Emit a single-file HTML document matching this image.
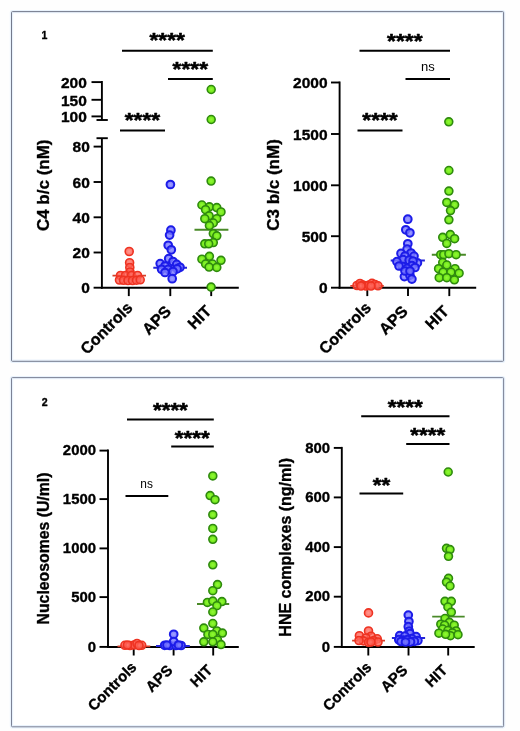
<!DOCTYPE html>
<html lang="en"><head><meta charset="utf-8"><title>Figure</title>
<style>
html,body{margin:0;padding:0;background:#fff;}
body{width:520px;height:731px;overflow:hidden;}
svg{display:block;filter:blur(0.35px);font-family:"Liberation Sans",sans-serif;fill:#000;}
text[font-weight="bold"]{stroke:#000;stroke-width:0.35px;stroke-linejoin:round;}
</style></head><body>
<svg width="520" height="731" viewBox="0 0 520 731">
<defs>
<radialGradient id="gr"><stop offset="0" stop-color="#ff7a70"/><stop offset="0.55" stop-color="#ff5e52"/><stop offset="1" stop-color="#fb4a3c"/></radialGradient>
<radialGradient id="gb"><stop offset="0" stop-color="#8c8cff"/><stop offset="0.55" stop-color="#7272ff"/><stop offset="1" stop-color="#5a5aff"/></radialGradient>
<radialGradient id="gg"><stop offset="0" stop-color="#92f838"/><stop offset="0.55" stop-color="#7cee22"/><stop offset="1" stop-color="#6ade18"/></radialGradient>
</defs>
<rect width="520" height="731" fill="#fefefe"/>
<rect x="11.5" y="11.6" width="492.1" height="349.7" rx="1" fill="#fff" stroke="#e9f2fc" stroke-width="3.4"/>
<rect x="11.5" y="11.6" width="492.1" height="349.7" rx="1" fill="none" stroke="#747a8c" stroke-width="1"/>
<rect x="11.5" y="377.6" width="492.1" height="349.2" rx="1" fill="#fff" stroke="#e9f2fc" stroke-width="3.4"/>
<rect x="11.5" y="377.6" width="492.1" height="349.2" rx="1" fill="none" stroke="#7c8296" stroke-width="1"/>
<text x="41.6" y="38.9" font-size="10.6" font-weight="bold" text-anchor="start" >1</text>
<text x="41.8" y="405.6" font-size="10.6" font-weight="bold" text-anchor="start" >2</text>
<line x1="101.9" y1="81" x2="101.9" y2="120" stroke="#000" stroke-width="1.9"/>
<line x1="91.5" y1="82.1" x2="101.9" y2="82.1" stroke="#000" stroke-width="1.9"/>
<text x="86.8" y="87.8" font-size="15.5" font-weight="bold" text-anchor="end" >200</text>
<line x1="91.5" y1="99.8" x2="101.9" y2="99.8" stroke="#000" stroke-width="1.9"/>
<text x="86.8" y="105.5" font-size="15.5" font-weight="bold" text-anchor="end" >150</text>
<line x1="91.5" y1="116.4" x2="101.9" y2="116.4" stroke="#000" stroke-width="1.9"/>
<text x="86.8" y="122.10000000000001" font-size="15.5" font-weight="bold" text-anchor="end" >100</text>
<line x1="96.5" y1="120" x2="107.8" y2="120" stroke="#000" stroke-width="1.9"/>
<line x1="96.5" y1="138.2" x2="107.8" y2="138.2" stroke="#000" stroke-width="1.9"/>
<line x1="101.9" y1="138.2" x2="101.9" y2="288.6" stroke="#000" stroke-width="1.9"/>
<line x1="93.6" y1="146.6" x2="101.9" y2="146.6" stroke="#000" stroke-width="1.9"/>
<text x="89.8" y="152.29999999999998" font-size="15.5" font-weight="bold" text-anchor="end" >80</text>
<line x1="93.6" y1="182" x2="101.9" y2="182" stroke="#000" stroke-width="1.9"/>
<text x="89.8" y="187.7" font-size="15.5" font-weight="bold" text-anchor="end" >60</text>
<line x1="93.6" y1="217.3" x2="101.9" y2="217.3" stroke="#000" stroke-width="1.9"/>
<text x="89.8" y="223.0" font-size="15.5" font-weight="bold" text-anchor="end" >40</text>
<line x1="93.6" y1="252.5" x2="101.9" y2="252.5" stroke="#000" stroke-width="1.9"/>
<text x="89.8" y="258.2" font-size="15.5" font-weight="bold" text-anchor="end" >20</text>
<line x1="93.6" y1="287.7" x2="101.9" y2="287.7" stroke="#000" stroke-width="1.9"/>
<text x="89.8" y="293.4" font-size="15.5" font-weight="bold" text-anchor="end" >0</text>
<line x1="100.9" y1="287.7" x2="238.8" y2="287.7" stroke="#000" stroke-width="1.9"/>
<line x1="128.8" y1="287" x2="128.8" y2="296.1" stroke="#000" stroke-width="1.9"/>
<line x1="170.3" y1="287" x2="170.3" y2="296.1" stroke="#000" stroke-width="1.9"/>
<line x1="211.2" y1="287" x2="211.2" y2="296.1" stroke="#000" stroke-width="1.9"/>
<text transform="translate(48.5 185.3) rotate(-90)" font-size="17" font-weight="bold" text-anchor="middle">C4 b/c (nM)</text>
<text transform="translate(133.6 308.7) rotate(-45)" font-size="16" font-weight="bold" text-anchor="end">Controls</text>
<text transform="translate(172 312.5) rotate(-45)" font-size="16" font-weight="bold" text-anchor="end">APS</text>
<text transform="translate(212.5 312) rotate(-45)" font-size="16" font-weight="bold" text-anchor="end">HIT</text>
<line x1="122" y1="50.7" x2="212.8" y2="50.7" stroke="#000" stroke-width="2.0"/>
<text transform="translate(167.2 37.7) scale(1 0.9)" y="10.72" font-size="22.8" font-weight="bold" text-anchor="middle" style="stroke-width:0.6px">****</text>
<line x1="168" y1="78.9" x2="212.8" y2="78.9" stroke="#000" stroke-width="2.0"/>
<text transform="translate(190.3 66.1) scale(1 0.9)" y="10.72" font-size="22.8" font-weight="bold" text-anchor="middle" style="stroke-width:0.6px">****</text>
<line x1="120" y1="130.4" x2="165" y2="130.4" stroke="#000" stroke-width="2.0"/>
<text transform="translate(142.4 117.2) scale(1 0.9)" y="10.72" font-size="22.8" font-weight="bold" text-anchor="middle" style="stroke-width:0.6px">****</text>
<line x1="112.5" y1="275.6" x2="146" y2="275.6" stroke="#d8402a" stroke-width="1.8"/>
<circle cx="129.2" cy="251.5" r="4.0" fill="url(#gr)" fill-opacity="0.78" stroke="#ee3322" stroke-width="1.6"/>
<circle cx="129.6" cy="262.7" r="4.0" fill="url(#gr)" fill-opacity="0.78" stroke="#ee3322" stroke-width="1.6"/>
<circle cx="129.8" cy="267.5" r="4.0" fill="url(#gr)" fill-opacity="0.78" stroke="#ee3322" stroke-width="1.6"/>
<circle cx="130.0" cy="272.0" r="4.0" fill="url(#gr)" fill-opacity="0.78" stroke="#ee3322" stroke-width="1.6"/>
<circle cx="120.5" cy="275.5" r="4.0" fill="url(#gr)" fill-opacity="0.78" stroke="#ee3322" stroke-width="1.6"/>
<circle cx="125.5" cy="275.5" r="4.0" fill="url(#gr)" fill-opacity="0.78" stroke="#ee3322" stroke-width="1.6"/>
<circle cx="131.5" cy="275.5" r="4.0" fill="url(#gr)" fill-opacity="0.78" stroke="#ee3322" stroke-width="1.6"/>
<circle cx="137.5" cy="275.5" r="4.0" fill="url(#gr)" fill-opacity="0.78" stroke="#ee3322" stroke-width="1.6"/>
<circle cx="119.5" cy="280.0" r="4.0" fill="url(#gr)" fill-opacity="0.78" stroke="#ee3322" stroke-width="1.6"/>
<circle cx="123.5" cy="280.3" r="4.0" fill="url(#gr)" fill-opacity="0.78" stroke="#ee3322" stroke-width="1.6"/>
<circle cx="128.0" cy="280.5" r="4.0" fill="url(#gr)" fill-opacity="0.78" stroke="#ee3322" stroke-width="1.6"/>
<circle cx="132.5" cy="280.5" r="4.0" fill="url(#gr)" fill-opacity="0.78" stroke="#ee3322" stroke-width="1.6"/>
<circle cx="136.5" cy="280.2" r="4.0" fill="url(#gr)" fill-opacity="0.78" stroke="#ee3322" stroke-width="1.6"/>
<circle cx="140.2" cy="279.8" r="4.0" fill="url(#gr)" fill-opacity="0.78" stroke="#ee3322" stroke-width="1.6"/>
<line x1="153.3" y1="267.8" x2="187" y2="267.8" stroke="#2525d8" stroke-width="1.9"/>
<circle cx="170.4" cy="184.5" r="3.85" fill="url(#gb)" fill-opacity="0.82" stroke="#1c1ce8" stroke-width="2.0"/>
<circle cx="170.9" cy="230.2" r="3.85" fill="url(#gb)" fill-opacity="0.82" stroke="#1c1ce8" stroke-width="2.0"/>
<circle cx="169.6" cy="235.1" r="3.85" fill="url(#gb)" fill-opacity="0.82" stroke="#1c1ce8" stroke-width="2.0"/>
<circle cx="168.2" cy="245.3" r="3.85" fill="url(#gb)" fill-opacity="0.82" stroke="#1c1ce8" stroke-width="2.0"/>
<circle cx="171.3" cy="249.8" r="3.85" fill="url(#gb)" fill-opacity="0.82" stroke="#1c1ce8" stroke-width="2.0"/>
<circle cx="168.7" cy="258.7" r="3.85" fill="url(#gb)" fill-opacity="0.82" stroke="#1c1ce8" stroke-width="2.0"/>
<circle cx="173.0" cy="261.5" r="3.85" fill="url(#gb)" fill-opacity="0.82" stroke="#1c1ce8" stroke-width="2.0"/>
<circle cx="160.2" cy="263.6" r="3.85" fill="url(#gb)" fill-opacity="0.82" stroke="#1c1ce8" stroke-width="2.0"/>
<circle cx="176.7" cy="264.4" r="3.85" fill="url(#gb)" fill-opacity="0.82" stroke="#1c1ce8" stroke-width="2.0"/>
<circle cx="165.0" cy="266.0" r="3.85" fill="url(#gb)" fill-opacity="0.82" stroke="#1c1ce8" stroke-width="2.0"/>
<circle cx="180.0" cy="267.3" r="3.85" fill="url(#gb)" fill-opacity="0.82" stroke="#1c1ce8" stroke-width="2.0"/>
<circle cx="161.6" cy="269.3" r="3.85" fill="url(#gb)" fill-opacity="0.82" stroke="#1c1ce8" stroke-width="2.0"/>
<circle cx="168.2" cy="269.3" r="3.85" fill="url(#gb)" fill-opacity="0.82" stroke="#1c1ce8" stroke-width="2.0"/>
<circle cx="177.1" cy="268.9" r="3.85" fill="url(#gb)" fill-opacity="0.82" stroke="#1c1ce8" stroke-width="2.0"/>
<circle cx="173.0" cy="271.5" r="3.85" fill="url(#gb)" fill-opacity="0.82" stroke="#1c1ce8" stroke-width="2.0"/>
<circle cx="165.0" cy="272.5" r="3.85" fill="url(#gb)" fill-opacity="0.82" stroke="#1c1ce8" stroke-width="2.0"/>
<circle cx="172.2" cy="278.7" r="3.85" fill="url(#gb)" fill-opacity="0.82" stroke="#1c1ce8" stroke-width="2.0"/>
<line x1="194.5" y1="229.8" x2="228.4" y2="229.8" stroke="#4a8a28" stroke-width="1.9"/>
<circle cx="211.2" cy="89.5" r="3.95" fill="url(#gg)" fill-opacity="1" stroke="#2f8a0e" stroke-width="1.6"/>
<circle cx="211.2" cy="119.5" r="3.95" fill="url(#gg)" fill-opacity="1" stroke="#2f8a0e" stroke-width="1.6"/>
<circle cx="211.1" cy="181.1" r="3.95" fill="url(#gg)" fill-opacity="1" stroke="#2f8a0e" stroke-width="1.6"/>
<circle cx="201.9" cy="205.0" r="3.95" fill="url(#gg)" fill-opacity="1" stroke="#2f8a0e" stroke-width="1.6"/>
<circle cx="209.4" cy="206.8" r="3.95" fill="url(#gg)" fill-opacity="1" stroke="#2f8a0e" stroke-width="1.6"/>
<circle cx="216.8" cy="207.6" r="3.95" fill="url(#gg)" fill-opacity="1" stroke="#2f8a0e" stroke-width="1.6"/>
<circle cx="205.6" cy="209.7" r="3.95" fill="url(#gg)" fill-opacity="1" stroke="#2f8a0e" stroke-width="1.6"/>
<circle cx="221.0" cy="211.9" r="3.95" fill="url(#gg)" fill-opacity="1" stroke="#2f8a0e" stroke-width="1.6"/>
<circle cx="209.1" cy="215.8" r="3.95" fill="url(#gg)" fill-opacity="1" stroke="#2f8a0e" stroke-width="1.6"/>
<circle cx="204.8" cy="218.7" r="3.95" fill="url(#gg)" fill-opacity="1" stroke="#2f8a0e" stroke-width="1.6"/>
<circle cx="216.8" cy="218.7" r="3.95" fill="url(#gg)" fill-opacity="1" stroke="#2f8a0e" stroke-width="1.6"/>
<circle cx="213.3" cy="223.0" r="3.95" fill="url(#gg)" fill-opacity="1" stroke="#2f8a0e" stroke-width="1.6"/>
<circle cx="209.4" cy="225.6" r="3.95" fill="url(#gg)" fill-opacity="1" stroke="#2f8a0e" stroke-width="1.6"/>
<circle cx="213.3" cy="233.6" r="3.95" fill="url(#gg)" fill-opacity="1" stroke="#2f8a0e" stroke-width="1.6"/>
<circle cx="216.8" cy="235.8" r="3.95" fill="url(#gg)" fill-opacity="1" stroke="#2f8a0e" stroke-width="1.6"/>
<circle cx="213.3" cy="242.6" r="3.95" fill="url(#gg)" fill-opacity="1" stroke="#2f8a0e" stroke-width="1.6"/>
<circle cx="204.8" cy="243.8" r="3.95" fill="url(#gg)" fill-opacity="1" stroke="#2f8a0e" stroke-width="1.6"/>
<circle cx="208.7" cy="243.8" r="3.95" fill="url(#gg)" fill-opacity="1" stroke="#2f8a0e" stroke-width="1.6"/>
<circle cx="209.4" cy="256.3" r="3.95" fill="url(#gg)" fill-opacity="1" stroke="#2f8a0e" stroke-width="1.6"/>
<circle cx="201.9" cy="259.2" r="3.95" fill="url(#gg)" fill-opacity="1" stroke="#2f8a0e" stroke-width="1.6"/>
<circle cx="221.0" cy="260.3" r="3.95" fill="url(#gg)" fill-opacity="1" stroke="#2f8a0e" stroke-width="1.6"/>
<circle cx="205.6" cy="264.0" r="3.95" fill="url(#gg)" fill-opacity="1" stroke="#2f8a0e" stroke-width="1.6"/>
<circle cx="212.5" cy="264.0" r="3.95" fill="url(#gg)" fill-opacity="1" stroke="#2f8a0e" stroke-width="1.6"/>
<circle cx="209.1" cy="267.1" r="3.95" fill="url(#gg)" fill-opacity="1" stroke="#2f8a0e" stroke-width="1.6"/>
<circle cx="216.8" cy="267.4" r="3.95" fill="url(#gg)" fill-opacity="1" stroke="#2f8a0e" stroke-width="1.6"/>
<circle cx="211.1" cy="287.1" r="3.95" fill="url(#gg)" fill-opacity="1" stroke="#2f8a0e" stroke-width="1.6"/>
<line x1="339.6" y1="81.5" x2="339.6" y2="288.6" stroke="#000" stroke-width="1.9"/>
<line x1="331" y1="82.5" x2="339.6" y2="82.5" stroke="#000" stroke-width="1.9"/>
<text x="327.5" y="88.2" font-size="15.5" font-weight="bold" text-anchor="end" >2000</text>
<line x1="331" y1="134" x2="339.6" y2="134" stroke="#000" stroke-width="1.9"/>
<text x="327.5" y="139.7" font-size="15.5" font-weight="bold" text-anchor="end" >1500</text>
<line x1="331" y1="185.3" x2="339.6" y2="185.3" stroke="#000" stroke-width="1.9"/>
<text x="327.5" y="191.0" font-size="15.5" font-weight="bold" text-anchor="end" >1000</text>
<line x1="331" y1="236.2" x2="339.6" y2="236.2" stroke="#000" stroke-width="1.9"/>
<text x="327.5" y="241.89999999999998" font-size="15.5" font-weight="bold" text-anchor="end" >500</text>
<line x1="331" y1="287.7" x2="339.6" y2="287.7" stroke="#000" stroke-width="1.9"/>
<text x="327.5" y="293.4" font-size="15.5" font-weight="bold" text-anchor="end" >0</text>
<line x1="338.6" y1="287.7" x2="476.2" y2="287.7" stroke="#000" stroke-width="1.9"/>
<line x1="367.3" y1="287" x2="367.3" y2="296.1" stroke="#000" stroke-width="1.9"/>
<line x1="408" y1="287" x2="408" y2="296.1" stroke="#000" stroke-width="1.9"/>
<line x1="449.3" y1="287" x2="449.3" y2="296.1" stroke="#000" stroke-width="1.9"/>
<text transform="translate(279.3 185) rotate(-90)" font-size="17" font-weight="bold" text-anchor="middle">C3 b/c (nM)</text>
<text transform="translate(372 308.6) rotate(-45)" font-size="16" font-weight="bold" text-anchor="end">Controls</text>
<text transform="translate(408.8 312.5) rotate(-45)" font-size="16" font-weight="bold" text-anchor="end">APS</text>
<text transform="translate(450 312.3) rotate(-45)" font-size="16" font-weight="bold" text-anchor="end">HIT</text>
<line x1="359.5" y1="50.7" x2="450" y2="50.7" stroke="#000" stroke-width="2.0"/>
<text transform="translate(404.8 38.2) scale(1 0.9)" y="10.72" font-size="22.8" font-weight="bold" text-anchor="middle" style="stroke-width:0.6px">****</text>
<line x1="405.5" y1="78.9" x2="450" y2="78.9" stroke="#000" stroke-width="2.0"/>
<text x="427.8" y="70.5" font-size="13" font-weight="normal" text-anchor="middle" >ns</text>
<line x1="357.5" y1="130.4" x2="402.5" y2="130.4" stroke="#000" stroke-width="2.0"/>
<text transform="translate(380 117.2) scale(1 0.9)" y="10.72" font-size="22.8" font-weight="bold" text-anchor="middle" style="stroke-width:0.6px">****</text>
<line x1="350.3" y1="285.9" x2="383.8" y2="285.9" stroke="#d8402a" stroke-width="1.8"/>
<circle cx="357.0" cy="285.5" r="4.0" fill="url(#gr)" fill-opacity="0.78" stroke="#ee3322" stroke-width="1.6"/>
<circle cx="360.0" cy="283.5" r="4.0" fill="url(#gr)" fill-opacity="0.78" stroke="#ee3322" stroke-width="1.6"/>
<circle cx="363.0" cy="285.0" r="4.0" fill="url(#gr)" fill-opacity="0.78" stroke="#ee3322" stroke-width="1.6"/>
<circle cx="366.0" cy="286.0" r="4.0" fill="url(#gr)" fill-opacity="0.78" stroke="#ee3322" stroke-width="1.6"/>
<circle cx="369.0" cy="285.0" r="4.0" fill="url(#gr)" fill-opacity="0.78" stroke="#ee3322" stroke-width="1.6"/>
<circle cx="372.0" cy="283.3" r="4.0" fill="url(#gr)" fill-opacity="0.78" stroke="#ee3322" stroke-width="1.6"/>
<circle cx="375.0" cy="284.5" r="4.0" fill="url(#gr)" fill-opacity="0.78" stroke="#ee3322" stroke-width="1.6"/>
<circle cx="378.0" cy="285.8" r="4.0" fill="url(#gr)" fill-opacity="0.78" stroke="#ee3322" stroke-width="1.6"/>
<circle cx="361.0" cy="286.0" r="4.0" fill="url(#gr)" fill-opacity="0.78" stroke="#ee3322" stroke-width="1.6"/>
<circle cx="371.0" cy="286.0" r="4.0" fill="url(#gr)" fill-opacity="0.78" stroke="#ee3322" stroke-width="1.6"/>
<line x1="390.7" y1="260.5" x2="424.9" y2="260.5" stroke="#2525d8" stroke-width="1.9"/>
<circle cx="407.8" cy="219.2" r="3.85" fill="url(#gb)" fill-opacity="0.82" stroke="#1c1ce8" stroke-width="2.0"/>
<circle cx="405.8" cy="229.8" r="3.85" fill="url(#gb)" fill-opacity="0.82" stroke="#1c1ce8" stroke-width="2.0"/>
<circle cx="409.9" cy="232.8" r="3.85" fill="url(#gb)" fill-opacity="0.82" stroke="#1c1ce8" stroke-width="2.0"/>
<circle cx="407.8" cy="243.8" r="3.85" fill="url(#gb)" fill-opacity="0.82" stroke="#1c1ce8" stroke-width="2.0"/>
<circle cx="407.1" cy="249.2" r="3.85" fill="url(#gb)" fill-opacity="0.82" stroke="#1c1ce8" stroke-width="2.0"/>
<circle cx="401.0" cy="253.4" r="3.85" fill="url(#gb)" fill-opacity="0.82" stroke="#1c1ce8" stroke-width="2.0"/>
<circle cx="411.0" cy="253.0" r="3.85" fill="url(#gb)" fill-opacity="0.82" stroke="#1c1ce8" stroke-width="2.0"/>
<circle cx="414.0" cy="256.1" r="3.85" fill="url(#gb)" fill-opacity="0.82" stroke="#1c1ce8" stroke-width="2.0"/>
<circle cx="405.0" cy="256.0" r="3.85" fill="url(#gb)" fill-opacity="0.82" stroke="#1c1ce8" stroke-width="2.0"/>
<circle cx="403.0" cy="259.5" r="3.85" fill="url(#gb)" fill-opacity="0.82" stroke="#1c1ce8" stroke-width="2.0"/>
<circle cx="396.9" cy="261.6" r="3.85" fill="url(#gb)" fill-opacity="0.82" stroke="#1c1ce8" stroke-width="2.0"/>
<circle cx="417.4" cy="262.9" r="3.85" fill="url(#gb)" fill-opacity="0.82" stroke="#1c1ce8" stroke-width="2.0"/>
<circle cx="409.2" cy="260.2" r="3.85" fill="url(#gb)" fill-opacity="0.82" stroke="#1c1ce8" stroke-width="2.0"/>
<circle cx="413.0" cy="261.0" r="3.85" fill="url(#gb)" fill-opacity="0.82" stroke="#1c1ce8" stroke-width="2.0"/>
<circle cx="402.4" cy="266.3" r="3.85" fill="url(#gb)" fill-opacity="0.82" stroke="#1c1ce8" stroke-width="2.0"/>
<circle cx="411.9" cy="265.7" r="3.85" fill="url(#gb)" fill-opacity="0.82" stroke="#1c1ce8" stroke-width="2.0"/>
<circle cx="407.1" cy="268.4" r="3.85" fill="url(#gb)" fill-opacity="0.82" stroke="#1c1ce8" stroke-width="2.0"/>
<circle cx="399.0" cy="266.0" r="3.85" fill="url(#gb)" fill-opacity="0.82" stroke="#1c1ce8" stroke-width="2.0"/>
<circle cx="415.0" cy="267.5" r="3.85" fill="url(#gb)" fill-opacity="0.82" stroke="#1c1ce8" stroke-width="2.0"/>
<circle cx="404.4" cy="276.6" r="3.85" fill="url(#gb)" fill-opacity="0.82" stroke="#1c1ce8" stroke-width="2.0"/>
<circle cx="409.9" cy="275.2" r="3.85" fill="url(#gb)" fill-opacity="0.82" stroke="#1c1ce8" stroke-width="2.0"/>
<circle cx="411.9" cy="279.1" r="3.85" fill="url(#gb)" fill-opacity="0.82" stroke="#1c1ce8" stroke-width="2.0"/>
<circle cx="405.0" cy="271.0" r="3.85" fill="url(#gb)" fill-opacity="0.82" stroke="#1c1ce8" stroke-width="2.0"/>
<circle cx="410.0" cy="271.0" r="3.85" fill="url(#gb)" fill-opacity="0.82" stroke="#1c1ce8" stroke-width="2.0"/>
<line x1="431.8" y1="254.7" x2="465.9" y2="254.7" stroke="#4a8a28" stroke-width="1.9"/>
<circle cx="448.8" cy="121.8" r="3.95" fill="url(#gg)" fill-opacity="1" stroke="#2f8a0e" stroke-width="1.6"/>
<circle cx="448.9" cy="170.5" r="3.95" fill="url(#gg)" fill-opacity="1" stroke="#2f8a0e" stroke-width="1.6"/>
<circle cx="448.9" cy="191.1" r="3.95" fill="url(#gg)" fill-opacity="1" stroke="#2f8a0e" stroke-width="1.6"/>
<circle cx="446.8" cy="202.4" r="3.95" fill="url(#gg)" fill-opacity="1" stroke="#2f8a0e" stroke-width="1.6"/>
<circle cx="454.6" cy="204.8" r="3.95" fill="url(#gg)" fill-opacity="1" stroke="#2f8a0e" stroke-width="1.6"/>
<circle cx="450.5" cy="210.6" r="3.95" fill="url(#gg)" fill-opacity="1" stroke="#2f8a0e" stroke-width="1.6"/>
<circle cx="448.9" cy="219.8" r="3.95" fill="url(#gg)" fill-opacity="1" stroke="#2f8a0e" stroke-width="1.6"/>
<circle cx="442.7" cy="237.3" r="3.95" fill="url(#gg)" fill-opacity="1" stroke="#2f8a0e" stroke-width="1.6"/>
<circle cx="450.3" cy="234.6" r="3.95" fill="url(#gg)" fill-opacity="1" stroke="#2f8a0e" stroke-width="1.6"/>
<circle cx="454.6" cy="238.7" r="3.95" fill="url(#gg)" fill-opacity="1" stroke="#2f8a0e" stroke-width="1.6"/>
<circle cx="446.8" cy="243.4" r="3.95" fill="url(#gg)" fill-opacity="1" stroke="#2f8a0e" stroke-width="1.6"/>
<circle cx="440.7" cy="254.7" r="3.95" fill="url(#gg)" fill-opacity="1" stroke="#2f8a0e" stroke-width="1.6"/>
<circle cx="443.7" cy="254.7" r="3.95" fill="url(#gg)" fill-opacity="1" stroke="#2f8a0e" stroke-width="1.6"/>
<circle cx="448.9" cy="253.7" r="3.95" fill="url(#gg)" fill-opacity="1" stroke="#2f8a0e" stroke-width="1.6"/>
<circle cx="456.1" cy="254.7" r="3.95" fill="url(#gg)" fill-opacity="1" stroke="#2f8a0e" stroke-width="1.6"/>
<circle cx="442.7" cy="262.5" r="3.95" fill="url(#gg)" fill-opacity="1" stroke="#2f8a0e" stroke-width="1.6"/>
<circle cx="446.8" cy="265.0" r="3.95" fill="url(#gg)" fill-opacity="1" stroke="#2f8a0e" stroke-width="1.6"/>
<circle cx="438.6" cy="268.7" r="3.95" fill="url(#gg)" fill-opacity="1" stroke="#2f8a0e" stroke-width="1.6"/>
<circle cx="455.0" cy="268.7" r="3.95" fill="url(#gg)" fill-opacity="1" stroke="#2f8a0e" stroke-width="1.6"/>
<circle cx="443.1" cy="272.2" r="3.95" fill="url(#gg)" fill-opacity="1" stroke="#2f8a0e" stroke-width="1.6"/>
<circle cx="450.9" cy="272.2" r="3.95" fill="url(#gg)" fill-opacity="1" stroke="#2f8a0e" stroke-width="1.6"/>
<circle cx="459.1" cy="273.2" r="3.95" fill="url(#gg)" fill-opacity="1" stroke="#2f8a0e" stroke-width="1.6"/>
<circle cx="439.2" cy="277.7" r="3.95" fill="url(#gg)" fill-opacity="1" stroke="#2f8a0e" stroke-width="1.6"/>
<circle cx="446.8" cy="277.7" r="3.95" fill="url(#gg)" fill-opacity="1" stroke="#2f8a0e" stroke-width="1.6"/>
<circle cx="454.4" cy="279.8" r="3.95" fill="url(#gg)" fill-opacity="1" stroke="#2f8a0e" stroke-width="1.6"/>
<line x1="108" y1="449.6" x2="108" y2="647.9" stroke="#000" stroke-width="1.9"/>
<line x1="99.5" y1="450.6" x2="108" y2="450.6" stroke="#000" stroke-width="1.9"/>
<text x="96" y="455.3" font-size="14.9" font-weight="bold" text-anchor="end" >2000</text>
<line x1="99.5" y1="499.1" x2="108" y2="499.1" stroke="#000" stroke-width="1.9"/>
<text x="96" y="503.8" font-size="14.9" font-weight="bold" text-anchor="end" >1500</text>
<line x1="99.5" y1="548.4" x2="108" y2="548.4" stroke="#000" stroke-width="1.9"/>
<text x="96" y="553.1" font-size="14.9" font-weight="bold" text-anchor="end" >1000</text>
<line x1="99.5" y1="597.1" x2="108" y2="597.1" stroke="#000" stroke-width="1.9"/>
<text x="96" y="601.8000000000001" font-size="14.9" font-weight="bold" text-anchor="end" >500</text>
<line x1="99.5" y1="646.9" x2="108" y2="646.9" stroke="#000" stroke-width="1.9"/>
<text x="96" y="651.6" font-size="14.9" font-weight="bold" text-anchor="end" >0</text>
<line x1="107" y1="647" x2="238.8" y2="647" stroke="#000" stroke-width="1.9"/>
<line x1="133.7" y1="646" x2="133.7" y2="655.5" stroke="#000" stroke-width="1.9"/>
<line x1="173.6" y1="646" x2="173.6" y2="655.5" stroke="#000" stroke-width="1.9"/>
<line x1="213.2" y1="646" x2="213.2" y2="655.5" stroke="#000" stroke-width="1.9"/>
<text transform="translate(48.8 548.5) rotate(-90)" font-size="15.8" font-weight="bold" text-anchor="middle">Nucleosomes (U/ml)</text>
<text transform="translate(137.5 668.2) rotate(-45)" font-size="15" font-weight="bold" text-anchor="end">Controls</text>
<text transform="translate(173.5 671.1) rotate(-45)" font-size="15" font-weight="bold" text-anchor="end">APS</text>
<text transform="translate(213.4 671) rotate(-45)" font-size="15" font-weight="bold" text-anchor="end">HIT</text>
<line x1="127" y1="419.6" x2="213.8" y2="419.6" stroke="#000" stroke-width="2.0"/>
<text transform="translate(170.4 407.5) scale(1 0.9)" y="10.53" font-size="22.4" font-weight="bold" text-anchor="middle" style="stroke-width:0.6px">****</text>
<line x1="171.2" y1="446.6" x2="213.8" y2="446.6" stroke="#000" stroke-width="2.0"/>
<text transform="translate(192.3 435.2) scale(1 0.9)" y="10.53" font-size="22.4" font-weight="bold" text-anchor="middle" style="stroke-width:0.6px">****</text>
<line x1="125.5" y1="495.9" x2="168.3" y2="495.9" stroke="#000" stroke-width="2.0"/>
<text x="146.6" y="488" font-size="11.9" font-weight="normal" text-anchor="middle" >ns</text>
<line x1="117.5" y1="646.3" x2="150.3" y2="646.3" stroke="#d8402a" stroke-width="1.8"/>
<circle cx="124.9" cy="645.3" r="4.0" fill="url(#gr)" fill-opacity="0.78" stroke="#ee3322" stroke-width="1.6"/>
<circle cx="130.0" cy="645.5" r="4.0" fill="url(#gr)" fill-opacity="0.78" stroke="#ee3322" stroke-width="1.6"/>
<circle cx="134.0" cy="645.0" r="4.0" fill="url(#gr)" fill-opacity="0.78" stroke="#ee3322" stroke-width="1.6"/>
<circle cx="137.0" cy="643.5" r="4.0" fill="url(#gr)" fill-opacity="0.78" stroke="#ee3322" stroke-width="1.6"/>
<circle cx="141.7" cy="645.3" r="4.0" fill="url(#gr)" fill-opacity="0.78" stroke="#ee3322" stroke-width="1.6"/>
<circle cx="127.5" cy="645.0" r="4.0" fill="url(#gr)" fill-opacity="0.78" stroke="#ee3322" stroke-width="1.6"/>
<circle cx="139.0" cy="645.5" r="4.0" fill="url(#gr)" fill-opacity="0.78" stroke="#ee3322" stroke-width="1.6"/>
<line x1="156" y1="646" x2="189.8" y2="646" stroke="#2525d8" stroke-width="1.9"/>
<circle cx="173.7" cy="634.3" r="3.85" fill="url(#gb)" fill-opacity="0.82" stroke="#1c1ce8" stroke-width="2.0"/>
<circle cx="164.7" cy="645.3" r="3.85" fill="url(#gb)" fill-opacity="0.82" stroke="#1c1ce8" stroke-width="2.0"/>
<circle cx="169.9" cy="645.5" r="3.85" fill="url(#gb)" fill-opacity="0.82" stroke="#1c1ce8" stroke-width="2.0"/>
<circle cx="175.9" cy="645.5" r="3.85" fill="url(#gb)" fill-opacity="0.82" stroke="#1c1ce8" stroke-width="2.0"/>
<circle cx="181.1" cy="645.5" r="3.85" fill="url(#gb)" fill-opacity="0.82" stroke="#1c1ce8" stroke-width="2.0"/>
<circle cx="173.7" cy="641.5" r="3.85" fill="url(#gb)" fill-opacity="0.82" stroke="#1c1ce8" stroke-width="2.0"/>
<circle cx="167.0" cy="645.0" r="3.85" fill="url(#gb)" fill-opacity="0.82" stroke="#1c1ce8" stroke-width="2.0"/>
<circle cx="178.5" cy="645.0" r="3.85" fill="url(#gb)" fill-opacity="0.82" stroke="#1c1ce8" stroke-width="2.0"/>
<line x1="197" y1="604" x2="229.2" y2="604" stroke="#4a8a28" stroke-width="1.9"/>
<circle cx="212.8" cy="475.9" r="3.95" fill="url(#gg)" fill-opacity="1" stroke="#2f8a0e" stroke-width="1.6"/>
<circle cx="210.1" cy="495.6" r="3.95" fill="url(#gg)" fill-opacity="1" stroke="#2f8a0e" stroke-width="1.6"/>
<circle cx="215.0" cy="499.7" r="3.95" fill="url(#gg)" fill-opacity="1" stroke="#2f8a0e" stroke-width="1.6"/>
<circle cx="212.8" cy="514.7" r="3.95" fill="url(#gg)" fill-opacity="1" stroke="#2f8a0e" stroke-width="1.6"/>
<circle cx="212.8" cy="528.4" r="3.95" fill="url(#gg)" fill-opacity="1" stroke="#2f8a0e" stroke-width="1.6"/>
<circle cx="212.8" cy="539.3" r="3.95" fill="url(#gg)" fill-opacity="1" stroke="#2f8a0e" stroke-width="1.6"/>
<circle cx="212.8" cy="564.8" r="3.95" fill="url(#gg)" fill-opacity="1" stroke="#2f8a0e" stroke-width="1.6"/>
<circle cx="217.5" cy="584.6" r="3.95" fill="url(#gg)" fill-opacity="1" stroke="#2f8a0e" stroke-width="1.6"/>
<circle cx="212.8" cy="590.7" r="3.95" fill="url(#gg)" fill-opacity="1" stroke="#2f8a0e" stroke-width="1.6"/>
<circle cx="207.4" cy="602.4" r="3.95" fill="url(#gg)" fill-opacity="1" stroke="#2f8a0e" stroke-width="1.6"/>
<circle cx="212.8" cy="601.1" r="3.95" fill="url(#gg)" fill-opacity="1" stroke="#2f8a0e" stroke-width="1.6"/>
<circle cx="221.9" cy="601.6" r="3.95" fill="url(#gg)" fill-opacity="1" stroke="#2f8a0e" stroke-width="1.6"/>
<circle cx="216.9" cy="605.7" r="3.95" fill="url(#gg)" fill-opacity="1" stroke="#2f8a0e" stroke-width="1.6"/>
<circle cx="212.8" cy="612.0" r="3.95" fill="url(#gg)" fill-opacity="1" stroke="#2f8a0e" stroke-width="1.6"/>
<circle cx="212.8" cy="623.5" r="3.95" fill="url(#gg)" fill-opacity="1" stroke="#2f8a0e" stroke-width="1.6"/>
<circle cx="203.8" cy="628.1" r="3.95" fill="url(#gg)" fill-opacity="1" stroke="#2f8a0e" stroke-width="1.6"/>
<circle cx="216.9" cy="630.9" r="3.95" fill="url(#gg)" fill-opacity="1" stroke="#2f8a0e" stroke-width="1.6"/>
<circle cx="222.4" cy="633.1" r="3.95" fill="url(#gg)" fill-opacity="1" stroke="#2f8a0e" stroke-width="1.6"/>
<circle cx="207.9" cy="634.4" r="3.95" fill="url(#gg)" fill-opacity="1" stroke="#2f8a0e" stroke-width="1.6"/>
<circle cx="212.8" cy="634.4" r="3.95" fill="url(#gg)" fill-opacity="1" stroke="#2f8a0e" stroke-width="1.6"/>
<circle cx="217.5" cy="639.9" r="3.95" fill="url(#gg)" fill-opacity="1" stroke="#2f8a0e" stroke-width="1.6"/>
<circle cx="203.8" cy="641.8" r="3.95" fill="url(#gg)" fill-opacity="1" stroke="#2f8a0e" stroke-width="1.6"/>
<circle cx="212.8" cy="641.8" r="3.95" fill="url(#gg)" fill-opacity="1" stroke="#2f8a0e" stroke-width="1.6"/>
<circle cx="221.0" cy="644.6" r="3.95" fill="url(#gg)" fill-opacity="1" stroke="#2f8a0e" stroke-width="1.6"/>
<line x1="341.8" y1="446.9" x2="341.8" y2="647.9" stroke="#000" stroke-width="1.9"/>
<line x1="333.8" y1="447.9" x2="341.8" y2="447.9" stroke="#000" stroke-width="1.9"/>
<text x="330" y="452.59999999999997" font-size="14.9" font-weight="bold" text-anchor="end" >800</text>
<line x1="333.8" y1="497.4" x2="341.8" y2="497.4" stroke="#000" stroke-width="1.9"/>
<text x="330" y="502.09999999999997" font-size="14.9" font-weight="bold" text-anchor="end" >600</text>
<line x1="333.8" y1="547.1" x2="341.8" y2="547.1" stroke="#000" stroke-width="1.9"/>
<text x="330" y="551.8000000000001" font-size="14.9" font-weight="bold" text-anchor="end" >400</text>
<line x1="333.8" y1="596.7" x2="341.8" y2="596.7" stroke="#000" stroke-width="1.9"/>
<text x="330" y="601.4000000000001" font-size="14.9" font-weight="bold" text-anchor="end" >200</text>
<line x1="333.8" y1="646.9" x2="341.8" y2="646.9" stroke="#000" stroke-width="1.9"/>
<text x="330" y="651.6" font-size="14.9" font-weight="bold" text-anchor="end" >0</text>
<line x1="340.8" y1="647" x2="474.7" y2="647" stroke="#000" stroke-width="1.9"/>
<line x1="368.3" y1="646" x2="368.3" y2="655.5" stroke="#000" stroke-width="1.9"/>
<line x1="408.5" y1="646" x2="408.5" y2="655.5" stroke="#000" stroke-width="1.9"/>
<line x1="448.2" y1="646" x2="448.2" y2="655.5" stroke="#000" stroke-width="1.9"/>
<text transform="translate(290.8 547.3) rotate(-90)" font-size="16" font-weight="bold" text-anchor="middle">HNE complexes (ng/ml)</text>
<text transform="translate(372.5 668.2) rotate(-45)" font-size="15" font-weight="bold" text-anchor="end">Controls</text>
<text transform="translate(408.5 671.1) rotate(-45)" font-size="15" font-weight="bold" text-anchor="end">APS</text>
<text transform="translate(448.4 671) rotate(-45)" font-size="15" font-weight="bold" text-anchor="end">HIT</text>
<line x1="361.2" y1="416.2" x2="449.5" y2="416.2" stroke="#000" stroke-width="2.0"/>
<text transform="translate(405.3 404.2) scale(1 0.9)" y="10.53" font-size="22.4" font-weight="bold" text-anchor="middle" style="stroke-width:0.6px">****</text>
<line x1="406.2" y1="444" x2="449.5" y2="444" stroke="#000" stroke-width="2.0"/>
<text transform="translate(427.8 432.4) scale(1 0.9)" y="10.53" font-size="22.4" font-weight="bold" text-anchor="middle" style="stroke-width:0.6px">****</text>
<line x1="359.5" y1="493.5" x2="403.2" y2="493.5" stroke="#000" stroke-width="2.0"/>
<text transform="translate(381.4 482.2) scale(1 0.9)" y="10.53" font-size="22.4" font-weight="bold" text-anchor="middle" style="stroke-width:0.6px">**</text>
<line x1="352.1" y1="640.6" x2="385" y2="640.6" stroke="#d8402a" stroke-width="1.8"/>
<circle cx="368.5" cy="612.9" r="4.0" fill="url(#gr)" fill-opacity="0.78" stroke="#ee3322" stroke-width="1.6"/>
<circle cx="368.5" cy="631.0" r="4.0" fill="url(#gr)" fill-opacity="0.78" stroke="#ee3322" stroke-width="1.6"/>
<circle cx="359.4" cy="635.7" r="4.0" fill="url(#gr)" fill-opacity="0.78" stroke="#ee3322" stroke-width="1.6"/>
<circle cx="371.1" cy="636.2" r="4.0" fill="url(#gr)" fill-opacity="0.78" stroke="#ee3322" stroke-width="1.6"/>
<circle cx="366.0" cy="638.0" r="4.0" fill="url(#gr)" fill-opacity="0.78" stroke="#ee3322" stroke-width="1.6"/>
<circle cx="377.2" cy="638.8" r="4.0" fill="url(#gr)" fill-opacity="0.78" stroke="#ee3322" stroke-width="1.6"/>
<circle cx="363.4" cy="640.9" r="4.0" fill="url(#gr)" fill-opacity="0.78" stroke="#ee3322" stroke-width="1.6"/>
<circle cx="373.7" cy="640.6" r="4.0" fill="url(#gr)" fill-opacity="0.78" stroke="#ee3322" stroke-width="1.6"/>
<circle cx="359.0" cy="640.5" r="4.0" fill="url(#gr)" fill-opacity="0.78" stroke="#ee3322" stroke-width="1.6"/>
<circle cx="368.5" cy="642.3" r="4.0" fill="url(#gr)" fill-opacity="0.78" stroke="#ee3322" stroke-width="1.6"/>
<circle cx="378.0" cy="642.0" r="4.0" fill="url(#gr)" fill-opacity="0.78" stroke="#ee3322" stroke-width="1.6"/>
<circle cx="371.0" cy="642.0" r="4.0" fill="url(#gr)" fill-opacity="0.78" stroke="#ee3322" stroke-width="1.6"/>
<line x1="391.9" y1="638" x2="425.1" y2="638" stroke="#2525d8" stroke-width="1.9"/>
<circle cx="408.3" cy="615.1" r="3.85" fill="url(#gb)" fill-opacity="0.82" stroke="#1c1ce8" stroke-width="2.0"/>
<circle cx="408.9" cy="621.5" r="3.85" fill="url(#gb)" fill-opacity="0.82" stroke="#1c1ce8" stroke-width="2.0"/>
<circle cx="408.3" cy="626.7" r="3.85" fill="url(#gb)" fill-opacity="0.82" stroke="#1c1ce8" stroke-width="2.0"/>
<circle cx="409.2" cy="631.0" r="3.85" fill="url(#gb)" fill-opacity="0.82" stroke="#1c1ce8" stroke-width="2.0"/>
<circle cx="410.0" cy="633.6" r="3.85" fill="url(#gb)" fill-opacity="0.82" stroke="#1c1ce8" stroke-width="2.0"/>
<circle cx="399.7" cy="635.7" r="3.85" fill="url(#gb)" fill-opacity="0.82" stroke="#1c1ce8" stroke-width="2.0"/>
<circle cx="404.9" cy="636.2" r="3.85" fill="url(#gb)" fill-opacity="0.82" stroke="#1c1ce8" stroke-width="2.0"/>
<circle cx="416.1" cy="636.7" r="3.85" fill="url(#gb)" fill-opacity="0.82" stroke="#1c1ce8" stroke-width="2.0"/>
<circle cx="411.8" cy="638.5" r="3.85" fill="url(#gb)" fill-opacity="0.82" stroke="#1c1ce8" stroke-width="2.0"/>
<circle cx="403.1" cy="640.2" r="3.85" fill="url(#gb)" fill-opacity="0.82" stroke="#1c1ce8" stroke-width="2.0"/>
<circle cx="398.8" cy="639.7" r="3.85" fill="url(#gb)" fill-opacity="0.82" stroke="#1c1ce8" stroke-width="2.0"/>
<circle cx="407.5" cy="639.7" r="3.85" fill="url(#gb)" fill-opacity="0.82" stroke="#1c1ce8" stroke-width="2.0"/>
<circle cx="417.9" cy="640.6" r="3.85" fill="url(#gb)" fill-opacity="0.82" stroke="#1c1ce8" stroke-width="2.0"/>
<circle cx="414.4" cy="641.4" r="3.85" fill="url(#gb)" fill-opacity="0.82" stroke="#1c1ce8" stroke-width="2.0"/>
<circle cx="401.0" cy="641.5" r="3.85" fill="url(#gb)" fill-opacity="0.82" stroke="#1c1ce8" stroke-width="2.0"/>
<circle cx="410.5" cy="641.8" r="3.85" fill="url(#gb)" fill-opacity="0.82" stroke="#1c1ce8" stroke-width="2.0"/>
<circle cx="405.5" cy="642.0" r="3.85" fill="url(#gb)" fill-opacity="0.82" stroke="#1c1ce8" stroke-width="2.0"/>
<line x1="432.2" y1="616.6" x2="464.7" y2="616.6" stroke="#4a8a28" stroke-width="1.9"/>
<circle cx="448.2" cy="472.0" r="3.95" fill="url(#gg)" fill-opacity="1" stroke="#2f8a0e" stroke-width="1.6"/>
<circle cx="446.5" cy="548.3" r="3.95" fill="url(#gg)" fill-opacity="1" stroke="#2f8a0e" stroke-width="1.6"/>
<circle cx="450.0" cy="549.6" r="3.95" fill="url(#gg)" fill-opacity="1" stroke="#2f8a0e" stroke-width="1.6"/>
<circle cx="448.5" cy="556.3" r="3.95" fill="url(#gg)" fill-opacity="1" stroke="#2f8a0e" stroke-width="1.6"/>
<circle cx="448.5" cy="578.3" r="3.95" fill="url(#gg)" fill-opacity="1" stroke="#2f8a0e" stroke-width="1.6"/>
<circle cx="446.5" cy="582.1" r="3.95" fill="url(#gg)" fill-opacity="1" stroke="#2f8a0e" stroke-width="1.6"/>
<circle cx="450.0" cy="586.0" r="3.95" fill="url(#gg)" fill-opacity="1" stroke="#2f8a0e" stroke-width="1.6"/>
<circle cx="445.0" cy="601.3" r="3.95" fill="url(#gg)" fill-opacity="1" stroke="#2f8a0e" stroke-width="1.6"/>
<circle cx="451.3" cy="601.3" r="3.95" fill="url(#gg)" fill-opacity="1" stroke="#2f8a0e" stroke-width="1.6"/>
<circle cx="447.9" cy="607.0" r="3.95" fill="url(#gg)" fill-opacity="1" stroke="#2f8a0e" stroke-width="1.6"/>
<circle cx="451.3" cy="612.2" r="3.95" fill="url(#gg)" fill-opacity="1" stroke="#2f8a0e" stroke-width="1.6"/>
<circle cx="445.0" cy="618.5" r="3.95" fill="url(#gg)" fill-opacity="1" stroke="#2f8a0e" stroke-width="1.6"/>
<circle cx="449.4" cy="622.3" r="3.95" fill="url(#gg)" fill-opacity="1" stroke="#2f8a0e" stroke-width="1.6"/>
<circle cx="440.8" cy="624.2" r="3.95" fill="url(#gg)" fill-opacity="1" stroke="#2f8a0e" stroke-width="1.6"/>
<circle cx="454.2" cy="625.2" r="3.95" fill="url(#gg)" fill-opacity="1" stroke="#2f8a0e" stroke-width="1.6"/>
<circle cx="444.6" cy="625.2" r="3.95" fill="url(#gg)" fill-opacity="1" stroke="#2f8a0e" stroke-width="1.6"/>
<circle cx="442.7" cy="629.0" r="3.95" fill="url(#gg)" fill-opacity="1" stroke="#2f8a0e" stroke-width="1.6"/>
<circle cx="447.9" cy="630.5" r="3.95" fill="url(#gg)" fill-opacity="1" stroke="#2f8a0e" stroke-width="1.6"/>
<circle cx="456.1" cy="630.9" r="3.95" fill="url(#gg)" fill-opacity="1" stroke="#2f8a0e" stroke-width="1.6"/>
<circle cx="438.9" cy="633.2" r="3.95" fill="url(#gg)" fill-opacity="1" stroke="#2f8a0e" stroke-width="1.6"/>
<circle cx="452.3" cy="632.8" r="3.95" fill="url(#gg)" fill-opacity="1" stroke="#2f8a0e" stroke-width="1.6"/>
<circle cx="450.4" cy="635.7" r="3.95" fill="url(#gg)" fill-opacity="1" stroke="#2f8a0e" stroke-width="1.6"/>
<circle cx="458.0" cy="634.7" r="3.95" fill="url(#gg)" fill-opacity="1" stroke="#2f8a0e" stroke-width="1.6"/>
<circle cx="445.6" cy="634.3" r="3.95" fill="url(#gg)" fill-opacity="1" stroke="#2f8a0e" stroke-width="1.6"/>
</svg>
</body></html>
